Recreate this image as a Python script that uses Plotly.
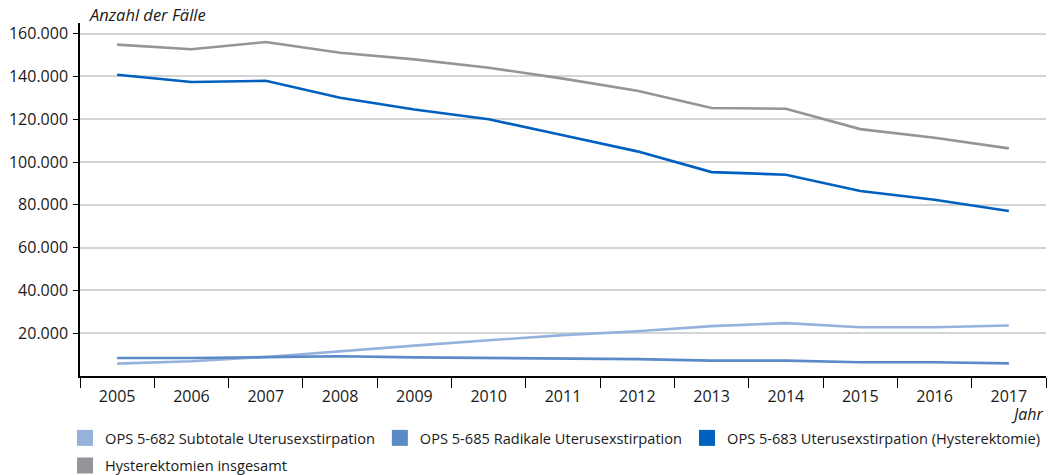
import plotly.graph_objects as go

years = [str(y) for y in range(2005, 2018)]
subtotale = [5800, 6900, 8900, 11700, 14200, 16700, 19100, 20900, 23300, 24700, 22800, 22800, 23600]
radikale = [8400, 8400, 8800, 9200, 8700, 8400, 8000, 7900, 7200, 7200, 6400, 6400, 5900]
hysterektomie = [140800, 137400, 138000, 130100, 124600, 120000, 112500, 105000, 95300, 94100, 86500, 82400, 77100]
insgesamt = [154900, 152700, 156100, 151100, 148000, 144100, 139000, 133300, 125300, 124900, 115400, 111400, 106400]

names = ["OPS 5-682 Subtotale Uterusexstirpation",
         "OPS 5-685 Radikale Uterusexstirpation",
         "OPS 5-683 Uterusexstirpation (Hysterektomie)",
         "Hysterektomien insgesamt"]
colors = ["#95b2dc", "#5a8ac8", "#0060bf", "#939598"]
legends = ["legend", "legend", "legend", "legend2"]
series = [subtotale, radikale, hysterektomie, insgesamt]
yticks = [20000, 40000, 60000, 80000, 100000, 120000, 140000, 160000]

FONT = "Open Sans"
fig = go.Figure()
for name, col, vals in zip(names, colors, series):
    fig.add_trace(go.Scatter(x=years, y=vals, mode="lines", name=name,
                             line=dict(color=col, width=2.6), showlegend=False))
for name, col, lg in zip(names, colors, legends):
    fig.add_trace(go.Scatter(x=[None], y=[None], mode="markers", name=name, legend=lg,
                             marker=dict(symbol="square", size=16, color=col)))

leg_common = dict(orientation="h", xanchor="left", yanchor="top",
                  font=dict(size=14.6), itemwidth=30, bgcolor="rgba(0,0,0,0)")
fig.update_layout(
    width=1057, height=475,
    margin=dict(l=80, r=11, t=23, b=99, autoexpand=False),
    plot_bgcolor="white", paper_bgcolor="white",
    separators=",.",
    font=dict(family=FONT, size=16, color="#1a1a1a"),
    xaxis=dict(type="category", range=[-0.5, 12.5], tickson="boundaries", ticks="outside",
               ticklen=10, tickcolor="black", showline=True, linecolor="black", linewidth=1.5,
               showgrid=False, tickfont=dict(size=16), ticklabelstandoff=5),
    yaxis=dict(range=[0, 165000], tickvals=yticks, tickformat=",d", ticks="outside",
               ticklen=5, tickcolor="black", showline=True, linecolor="black", linewidth=1.5,
               showgrid=True, gridcolor="#d3d4d6", gridwidth=1.5, zeroline=False,
               tickfont=dict(size=16), ticklabelstandoff=2),
    legend=dict(x=-0.0155, y=-0.130, **leg_common),
    legend2=dict(x=-0.0155, y=-0.208, **leg_common),
    annotations=[
        dict(text="<i>Anzahl der Fälle</i>", xref="paper", yref="paper", x=0.007, y=1.0,
             xanchor="left", yanchor="bottom", yshift=-5, showarrow=False,
             font=dict(size=16.5)),
        dict(text="<i>Jahr</i>", xref="paper", yref="paper", x=1.0, y=-0.072,
             xanchor="right", yanchor="top", showarrow=False, font=dict(size=16)),
    ],
)
fig.write_html("out.html", config={"displayModeBar": False},
               post_script="document.body.style.margin='0';")
